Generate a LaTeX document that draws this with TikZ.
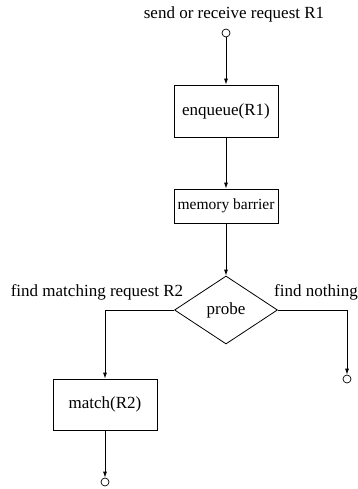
\documentclass[tikz,border=0pt]{standalone}
\usepackage{fontspec}
\setmainfont{Liberation Serif}
\usetikzlibrary{shapes.geometric, arrows.meta, positioning, calc}
\tikzstyle{flow} = [line width=0.8pt,->,>={Latex[length=6pt,width=4pt]}]
\tikzstyle{task} = [rectangle, draw, line width=0.8pt, minimum width=104pt, inner sep=0pt]
\tikzstyle{test} = [diamond, draw, line width=0.8pt, minimum width=103pt, minimum height=68pt, inner sep=0pt]
\tikzstyle{term} = [circle, draw, line width=0.7pt, minimum size=8pt, inner sep=0pt]

\begin{document}
\begin{tikzpicture}[x=1pt, y=-1pt, font=\fontsize{17}{20}\selectfont]
  \useasboundingbox (0,0) rectangle (357,489);

  % main line
  \node [term] (start) at (226,33) {};
  \node (startlbl) at (234,14) {send or receive request R1};
  \node [task, minimum height=52pt] (enq) at (226,111) {enqueue(R1)};
  \node [task, minimum height=34pt, font=\fontsize{15.5}{18}\selectfont] (mb) at (226,206) {memory barrier};
  \node [test] (probe) at (226,310) {probe};

  % branches
  \node (yeslbl) at (97,292) {find matching request R2};
  \node [anchor=west, inner sep=0pt] (nolbl) at (274,292) {find nothing};
  \node [task, minimum height=51pt] (match) at (105,404.5) {match(R2)};
  \node [term] (stopL) at (105,482) {};
  \node [term] (stopR) at (347,379) {};

  \draw [flow] (start) -- (enq);
  \draw [flow] (enq) -- (mb);
  \draw [flow] (mb) -- (probe);
  \draw [flow] (probe.west) -| (match);
  \draw [flow] (probe.east) -| (stopR);
  \draw [flow] (match) -- (stopL);
\end{tikzpicture}
\end{document}
